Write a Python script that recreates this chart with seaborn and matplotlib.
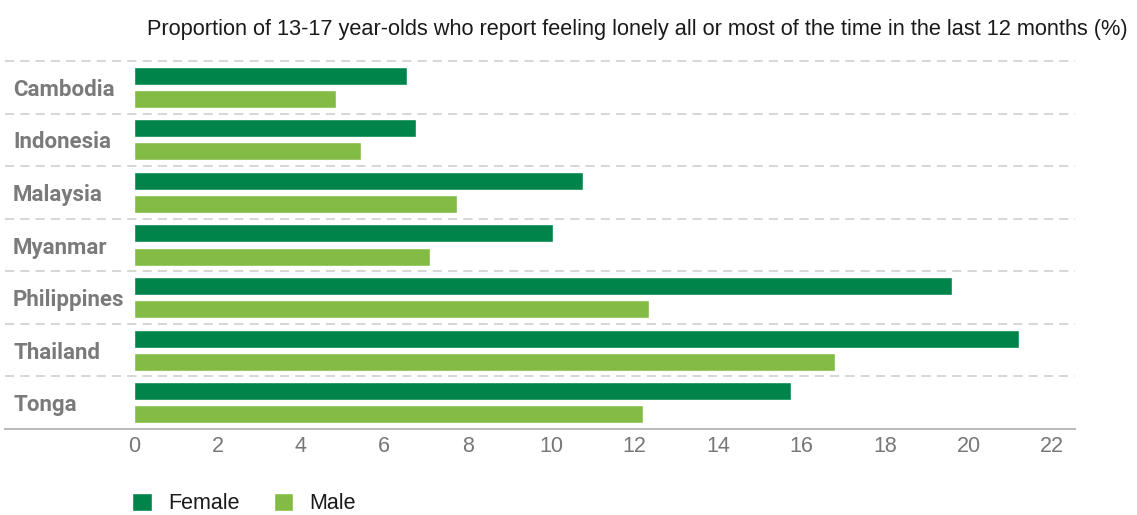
import matplotlib
matplotlib.use("Agg")
import matplotlib.pyplot as plt
import seaborn as sns
import pandas as pd

countries = ["Cambodia", "Indonesia", "Malaysia", "Myanmar", "Philippines", "Thailand", "Tonga"]
female = [6.55, 6.75, 10.75, 10.05, 19.6, 21.2, 15.75]
male = [4.85, 5.45, 7.75, 7.1, 12.35, 16.8, 12.2]
xticks = [0, 2, 4, 6, 8, 10, 12, 14, 16, 18, 20, 22]
title = "Proportion of 13-17 year-olds who report feeling lonely all or most of the time in the last 12 months (%)"

df = pd.DataFrame({
    "country": countries * 2,
    "value": female + male,
    "sex": ["Female"] * len(countries) + ["Male"] * len(countries),
})

sns.set_theme(style="white")
plt.rcParams["font.family"] = ["Liberation Sans", "DejaVu Sans"]

W, H = 1137, 515
fig = plt.figure(figsize=(W / 100, H / 100), dpi=100)
ax_left, ax_right = 5, 1075
ax_top, ax_bot = 61, 429
ax = fig.add_axes([ax_left / W, 1 - ax_bot / H, (ax_right - ax_left) / W, (ax_bot - ax_top) / H])

px_per_unit = (1052 - 134) / 22
xmin = -(134 - ax_left) / px_per_unit
xmax = (ax_right - 134) / px_per_unit

sns.barplot(data=df, y="country", x="value", hue="sex", orient="h",
            palette={"Female": "#00844a", "Male": "#84bb45"},
            width=0.88, gap=0.22, ax=ax, legend=True, saturation=1)

ax.set_xlim(xmin, xmax)
ax.set_ylim(len(countries) - 0.5, -0.5)
ax.set_xticks(xticks)
ax.set_xticklabels([str(t) for t in xticks], color="#777777", fontsize=15.5)
ax.tick_params(axis="x", length=0, pad=5)
ax.tick_params(axis="y", length=0, pad=-5.8)
for lbl in ax.get_yticklabels():
    lbl.set_horizontalalignment("left")
    lbl.set_fontweight("bold")
    lbl.set_family(["Roboto", "DejaVu Sans"])
    lbl.set_color("#7a7a7a")
    lbl.set_fontsize(16)
ax.set_xlabel("")
ax.set_ylabel("")

for y in [i - 0.5 for i in range(len(countries))]:
    ax.axhline(y, color="#cccccc", lw=1.1, ls=(0, (6, 4)), clip_on=False, zorder=0)

for s in ["top", "left", "right"]:
    ax.spines[s].set_visible(False)
ax.spines["bottom"].set_color("#bbbbbb")
ax.spines["bottom"].set_linewidth(1.5)

fig.text(147 / W, 1 - 29 / H, title, ha="left", va="center", fontsize=15.65, color="#1a1a1a")

handles, labels = ax.get_legend_handles_labels()
ax.get_legend().remove()
fig.legend(handles, labels, loc="lower left", bbox_to_anchor=(113 / W, -0.036), ncol=2,
           frameon=False, fontsize=15.5, handlelength=0.9, handleheight=0.9,
           columnspacing=1.6, handletextpad=0.75, labelcolor="#1a1a1a")

fig.savefig("out.png", dpi=100)
